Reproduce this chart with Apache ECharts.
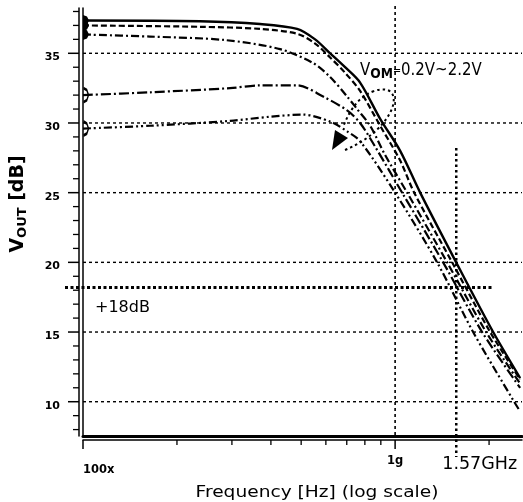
<!DOCTYPE html>
<html><head><meta charset="utf-8">
<script src="https://cdn.jsdelivr.net/npm/echarts@6/dist/echarts.min.js"></script>
<style>html,body{margin:0;padding:0;background:#fff}#c{width:523px;height:502px}</style>
</head><body><div id="c"></div>
<script>
// ---- data (frequency in MHz, output in dB) ----
const freqC1 = [100, 237.1, 369.2, 485.2, 554.2, 619.0, 691.4, 772.3, 895.5, 1038, 1203, 1569, 2061, 2515];
const voutC1 = [37.35, 37.3, 37.1, 36.75, 36.0, 35.0, 34.0, 32.9, 30.3, 28.0, 25.0, 20.0, 15.0, 11.7];
const freqC2 = [100, 237.1, 369.2, 485.2, 554.2, 619.0, 691.4, 772.3, 895.5, 1038, 1151, 1523, 2016, 2515];
const voutC2 = [37.0, 36.9, 36.75, 36.4, 35.7, 34.7, 33.6, 32.3, 29.8, 27.3, 25.0, 20.0, 15.0, 11.6];
const freqC3 = [100, 163.9, 285.2, 428.0, 546.1, 619.0, 701.8, 755.4, 831.8, 928.9, 1093, 1468, 1957, 2515];
const voutC3 = [36.35, 36.2, 35.95, 35.3, 34.3, 33.3, 31.9, 31.0, 29.8, 27.7, 25.0, 20.0, 15.0, 11.3];
const freqC4 = [100, 163.9, 295.9, 369.2, 485.2, 587.8, 701.8, 772.3, 863.0, 1053, 1425, 1900, 2515];
const voutC4 = [32.0, 32.2, 32.5, 32.7, 32.7, 31.9, 30.9, 30.0, 28.3, 25.0, 20.0, 15.0, 11.0];
const freqC5 = [100, 163.9, 295.9, 397.6, 507.2, 619.0, 701.8, 772.3, 1000, 1363, 1778, 2406, 2515];
const voutC5 = [29.6, 29.8, 30.15, 30.45, 30.6, 30.1, 29.4, 28.7, 25.0, 20.0, 15.0, 10.0, 9.3];

const yMajorTicks = [10, 15, 20, 25, 30, 35];
const yMinorTicks = [8, 9, 11, 12, 13, 14, 16, 17, 18, 19, 21, 22, 23, 24, 26, 27, 28, 29, 31, 32, 33, 34, 36, 37, 38];
const xMajorTicks = [100, 1000];
const xMajorLabels = ['100x', '1g'];
const xMinorTicks = [200, 300, 400, 500, 600, 700, 800, 900, 2000];

const refLevelDb = 18.2;
const refLineEndFreq = 2050;
const refLabel = '+18dB';
const markerFreq = 1570;
const markerTopDb = 28.2;
const markerLabel = '1.57GHz';

const X_MIN = 100, X_MAX = 2550, Y_MIN = 7.54, Y_MAX = 38.25;

// ---- rendering ----
const chart = echarts.init(document.getElementById('c'), null, {renderer: 'canvas'});
const BLK = '#000';
const FONT = '"DejaVu Sans", sans-serif';

function pairs(f, v) { return f.map((x, i) => [x, v[i]]); }
function withStart(data, sym) {
  data[0] = Object.assign({value: data[0]}, sym);
  return data;
}
const filledHalf = {symbol: 'path://M0,0 L4,1.5 L6,6 L4,10.5 L0,12 Z', symbolSize: [6, 11], symbolOffset: [3, 0], itemStyle: {color: BLK}};
const openHalf = {symbol: 'path://M0,0 L4,2 L6,7 L4,12 L0,14', symbolSize: [5, 14], symbolOffset: [3, 0], itemStyle: {color: 'rgba(0,0,0,0)', borderColor: BLK, borderWidth: 1.8}};

function curve(name, f, v, dash, width, sym) {
  return {
    name: name, type: 'line', data: withStart(pairs(f, v), sym),
    symbol: 'none', smooth: 0.3, z: 5, silent: true,
    lineStyle: {color: BLK, width: width, type: dash}
  };
}

const yMajorSeries = {
  type: 'custom', clip: false, silent: true, z: 1,
  data: yMajorTicks.map(v => [X_MIN, v]),
  renderItem: function (params, api) {
    const cs = params.coordSys;
    const p = api.coord([X_MIN, api.value(1)]);
    return {type: 'group', children: [
      {type: 'line', shape: {x1: cs.x - 15, y1: p[1], x2: cs.x - 4, y2: p[1]}, style: {stroke: BLK, lineWidth: 1.5}},
      {type: 'line', shape: {x1: cs.x, y1: p[1], x2: cs.x + cs.width, y2: p[1]}, style: {stroke: BLK, lineWidth: 1.4, lineDash: [3, 3]}},
      {type: 'text', x: cs.x - 23, y: p[1] + 4, style: {text: String(api.value(1)), font: 'bold 11px ' + FONT, fill: BLK, align: 'right', verticalAlign: 'middle'}}
    ]};
  }
};
const yMinorSeries = {
  type: 'custom', clip: false, silent: true, z: 1,
  data: yMinorTicks.map(v => [X_MIN, v]),
  renderItem: function (params, api) {
    const cs = params.coordSys;
    const p = api.coord([X_MIN, api.value(1)]);
    return {type: 'line', shape: {x1: cs.x - 10, y1: p[1], x2: cs.x - 4, y2: p[1]}, style: {stroke: BLK, lineWidth: 1.3}};
  }
};
const xLabelDy = [34, 25];
const xLabelAlign = ['left', 'center'];
const xMajorSeries = {
  type: 'custom', clip: false, silent: true, z: 1,
  data: xMajorTicks.map(v => [v, Y_MIN]),
  renderItem: function (params, api) {
    const cs = params.coordSys;
    const i = params.dataIndex;
    const p = api.coord([api.value(0), Y_MIN]);
    const ch = [
      {type: 'line', shape: {x1: p[0], y1: p[1] + 4, x2: p[0], y2: p[1] + 13}, style: {stroke: BLK, lineWidth: 1.5}},
      {type: 'text', x: p[0], y: p[1] + xLabelDy[i], style: {text: xMajorLabels[i], font: 'bold 11.5px ' + FONT, fill: BLK, align: xLabelAlign[i], verticalAlign: 'middle'}}
    ];
    if (api.value(0) > X_MIN) {
      ch.push({type: 'line', shape: {x1: p[0], y1: cs.y - 2, x2: p[0], y2: p[1]}, style: {stroke: BLK, lineWidth: 1.6, lineDash: [3, 3]}});
    }
    return {type: 'group', children: ch};
  }
};
const xMinorSeries = {
  type: 'custom', clip: false, silent: true, z: 1,
  data: xMinorTicks.map(v => [v, Y_MIN]),
  renderItem: function (params, api) {
    const p = api.coord([api.value(0), Y_MIN]);
    return {type: 'line', shape: {x1: p[0], y1: p[1] + 4, x2: p[0], y2: p[1] + 9}, style: {stroke: BLK, lineWidth: 1.3}};
  }
};
const refSeries = {
  type: 'custom', clip: false, silent: true, z: 2,
  data: [[refLineEndFreq, refLevelDb]],
  renderItem: function (params, api) {
    const p = api.coord([X_MIN, api.value(1)]);
    const q = api.coord([api.value(0), api.value(1)]);
    return {type: 'group', children: [
      {type: 'line', shape: {x1: p[0] - 18, y1: p[1], x2: q[0], y2: q[1]}, style: {stroke: BLK, lineWidth: 3, lineDash: [3, 2.5]}},
      {type: 'text', x: p[0] + 12, y: p[1] + 20, style: {text: refLabel, font: '16px ' + FONT, fill: BLK, align: 'left', verticalAlign: 'middle'}}
    ]};
  }
};
const markerSeries = {
  type: 'custom', clip: false, silent: true, z: 2,
  data: [[markerFreq, markerTopDb]],
  renderItem: function (params, api) {
    const p = api.coord([api.value(0), api.value(1)]);
    const b = api.coord([api.value(0), Y_MIN]);
    return {type: 'group', children: [
      {type: 'line', shape: {x1: p[0], y1: p[1], x2: b[0], y2: b[1] + 21}, style: {stroke: BLK, lineWidth: 2.5, lineDash: [2.5, 3]}},
      {type: 'text', x: p[0] - 14, y: b[1] + 28, style: {text: markerLabel, font: '17.5px ' + FONT, fill: BLK, align: 'left', verticalAlign: 'middle'}}
    ]};
  }
};

const hiddenAxisParts = {axisTick: {show: false}, axisLabel: {show: false}, splitLine: {show: false}, minorTick: {show: false}};

const option = {
  animation: false,
  backgroundColor: '#fff',
  grid: {left: 83, right: 1, top: 8, bottom: 66, containLabel: false},
  xAxis: [
    Object.assign({type: 'log', logBase: 10, min: X_MIN, max: X_MAX, axisLine: {show: true, onZero: false, lineStyle: {color: BLK, width: 3}}}, hiddenAxisParts),
    Object.assign({type: 'log', logBase: 10, min: X_MIN, max: X_MAX, position: 'bottom', offset: 4, axisLine: {show: true, onZero: false, lineStyle: {color: BLK, width: 1.5}}}, hiddenAxisParts)
  ],
  yAxis: [
    Object.assign({type: 'value', min: Y_MIN, max: Y_MAX, axisLine: {show: true, onZero: false, lineStyle: {color: BLK, width: 1.5}}}, hiddenAxisParts),
    Object.assign({type: 'value', min: Y_MIN, max: Y_MAX, position: 'left', offset: 4, axisLine: {show: true, onZero: false, lineStyle: {color: BLK, width: 1.5}}}, hiddenAxisParts)
  ],
  series: [
    yMajorSeries, yMinorSeries, xMajorSeries, xMinorSeries, refSeries, markerSeries,
    curve('VCM1', freqC1, voutC1, 'solid', 2.4, filledHalf),
    curve('VCM2', freqC2, voutC2, [6, 3], 2.2, filledHalf),
    curve('VCM3', freqC3, voutC3, [8, 3, 2, 3], 2.2, filledHalf),
    curve('VCM4', freqC4, voutC4, [10, 3, 2, 3], 2.2, openHalf),
    curve('VCM5', freqC5, voutC5, [8, 3, 2, 3, 2, 3], 2.2, openHalf)
  ],
  graphic: [
    {type: 'text', x: 18, y: 204, rotation: Math.PI / 2, silent: true,
      style: {text: '{v|V}{s|OUT}{n| [dB]}', align: 'center', verticalAlign: 'middle', fill: BLK,
        rich: {
          v: {font: 'bold 19px ' + FONT, fill: BLK, lineHeight: 22, verticalAlign: 'middle'},
          s: {font: 'bold 13px ' + FONT, fill: BLK, lineHeight: 17, verticalAlign: 'bottom'},
          n: {font: 'bold 19px ' + FONT, fill: BLK, lineHeight: 22, verticalAlign: 'middle'}
        }}},
    {type: 'text', x: 317, y: 493, scaleX: 1.24, silent: true,
      style: {text: 'Frequency [Hz] (log scale)', font: '15px ' + FONT, fill: BLK, align: 'center', verticalAlign: 'middle'}},
    {type: 'text', x: 360, y: 71, scaleX: 0.88, silent: true,
      style: {text: '{v|V}{s|OM}{e|=}{n|0.2V~2.2V}', align: 'left', verticalAlign: 'middle', fill: BLK,
        rich: {
          v: {font: '17px ' + FONT, fill: BLK, lineHeight: 20, verticalAlign: 'middle'},
          s: {font: 'bold 14px ' + FONT, fill: BLK, lineHeight: 16, verticalAlign: 'bottom'},
          e: {font: '11px ' + FONT, fill: BLK, lineHeight: 20, verticalAlign: 'middle'},
          n: {font: '17px ' + FONT, fill: BLK, lineHeight: 20, verticalAlign: 'middle'}
        }}},
    {type: 'bezierCurve', silent: true, shape: {x1: 345, y1: 150, cpx1: 398, cpy1: 128, cpx2: 408, cpy2: 80, x2: 374, y2: 91},
      style: {fill: 'none', stroke: BLK, lineWidth: 2, lineDash: [2.5, 3]}},
    {type: 'bezierCurve', silent: true, shape: {x1: 374, y1: 91, cpx1: 358, cpy1: 97, cpx2: 350, cpy2: 110, x2: 343, y2: 127},
      style: {fill: 'none', stroke: BLK, lineWidth: 2, lineDash: [2.5, 3]}},
    {type: 'polygon', silent: true, shape: {points: [[332, 150], [348, 138], [335, 130]]}, style: {fill: BLK}}
  ]
};
chart.setOption(option);
</script>
</body></html>
